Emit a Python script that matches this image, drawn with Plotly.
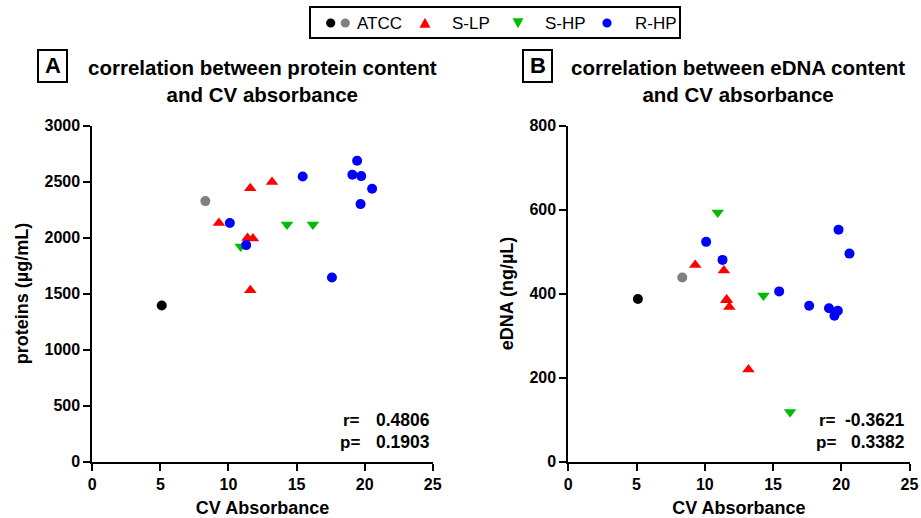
import plotly.graph_objects as go

W, H = 921, 518

# ---------------- data ----------------
# Panel A: CV absorbance vs protein content (µg/mL)
atcc1_cv_a = [5.1]
atcc1_prot = [1393]
atcc2_cv_a = [8.3]
atcc2_prot = [2325]
slp_cv_a = [9.3, 11.4, 11.8, 11.6, 13.2, 11.6]
slp_prot = [2130, 1995, 1990, 2440, 2495, 1530]
shp_cv_a = [14.3, 16.2, 10.9]
shp_prot = [2117, 2117, 1920]
rhp_cv_a = [10.1, 11.3, 15.45, 19.45, 19.1, 19.75, 20.55, 19.7, 17.6]
rhp_prot = [2129, 1932, 2545, 2685, 2560, 2548, 2435, 2298, 1643]

# Panel B: CV absorbance vs eDNA content (ng/µL)
atcc1_cv_b = [5.1]
atcc1_edna = [387]
atcc2_cv_b = [8.35]
atcc2_edna = [438]
slp_cv_b = [9.3, 11.4, 11.6, 11.8, 13.2, 11.6]
slp_edna = [468, 455, 386, 368, 219, 384]
shp_cv_b = [10.95, 14.3, 16.25]
shp_edna = [593, 395, 118]
rhp_cv_b = [10.1, 11.3, 15.45, 17.65, 19.1, 19.75, 19.5, 19.8, 20.6]
rhp_edna = [523, 480, 405, 371, 365, 359, 347, 552, 495]

stats_a = ("0.4806", "0.1903")
stats_b = ("-0.3621", "0.3382")

x_ticks = [0, 5, 10, 15, 20, 25]
ya_ticks = [0, 500, 1000, 1500, 2000, 2500, 3000]
yb_ticks = [0, 200, 400, 600, 800]

groups = ["ATCC", "S-LP", "S-HP", "R-HP"]

# ---------------- style ----------------
FONT = "Liberation Sans, Arial, Helvetica, sans-serif"
BLACK, GRAY, RED, GREEN, BLUE = "#000000", "#808080", "#ff0000", "#00bb00", "#0000ff"


def px(x):
    return x / W


def py(y):
    return 1 - y / H


fig = go.Figure()


def add_panel(xa, ya, sets):
    for xs, ys, color, symbol, name, size in sets:
        fig.add_trace(go.Scatter(
            x=xs, y=ys, mode="markers", name=name, showlegend=False,
            xaxis=xa, yaxis=ya, hoverinfo="skip",
            marker=dict(color=color, symbol=symbol, size=size, line=dict(width=0)),
        ))


add_panel("x", "y", [
    (atcc1_cv_a, atcc1_prot, BLACK, "circle", groups[0], 10),
    (atcc2_cv_a, atcc2_prot, GRAY, "circle", groups[0], 10),
    (slp_cv_a, slp_prot, RED, "triangle-up", groups[1], 11),
    (shp_cv_a, shp_prot, GREEN, "triangle-down", groups[2], 11),
    (rhp_cv_a, rhp_prot, BLUE, "circle", groups[3], 10),
])
add_panel("x2", "y2", [
    (atcc1_cv_b, atcc1_edna, BLACK, "circle", groups[0], 10),
    (atcc2_cv_b, atcc2_edna, GRAY, "circle", groups[0], 10),
    (slp_cv_b, slp_edna, RED, "triangle-up", groups[1], 11),
    (shp_cv_b, shp_edna, GREEN, "triangle-down", groups[2], 11),
    (rhp_cv_b, rhp_edna, BLUE, "circle", groups[3], 10),
])

axis_common = dict(
    showline=True, linecolor="black", linewidth=2,
    ticks="outside", ticklen=7, tickwidth=2, tickcolor="black",
    showgrid=False, zeroline=False, automargin=False,
    tickfont=dict(family=FONT, size=16, color="black", weight="bold"),
)
ydom = [py(461.5), py(125.5)]
title_font = dict(family=FONT, size=18, color="black")

fig.update_layout(
    width=W, height=H, autosize=False,
    margin=dict(l=0, r=0, t=0, b=0),
    paper_bgcolor="white", plot_bgcolor="white",
    showlegend=False,
    xaxis=dict(domain=[px(92.3), px(432.7)], range=[0, 25], tickvals=x_ticks,
               title=dict(text="<b>CV Absorbance</b>", font=title_font, standoff=11),
               anchor="y", **axis_common),
    yaxis=dict(domain=ydom, range=[0, 3000], tickvals=ya_ticks,
               title=dict(text="<b>proteins (µg/mL)</b>", font=title_font, standoff=11),
               anchor="x", **axis_common),
    xaxis2=dict(domain=[px(568.3), px(909.5)], range=[0, 25], tickvals=x_ticks,
                title=dict(text="<b>CV Absorbance</b>", font=title_font, standoff=11),
                anchor="y2", **axis_common),
    yaxis2=dict(domain=ydom, range=[0, 800], tickvals=yb_ticks,
                title=dict(text="<b>eDNA (ng/µL)</b>", font=title_font, standoff=11),
                anchor="x2", **axis_common),
)

ann = []
shapes = []

# panel titles
for cx, txt in [(262.5, "correlation between protein content<br>and CV absorbance"),
                (737.5, "correlation between eDNA content<br>and CV absorbance")]:
    ann.append(dict(x=px(cx), y=py(81), xref="paper", yref="paper", text="<b>" + txt + "</b>",
                    showarrow=False, xanchor="center", yanchor="middle",
                    font=dict(family=FONT, size=20.5, color="black"), align="center"))

# panel letters in boxes
for x0, letter in [(38, "A"), (523, "B")]:
    shapes.append(dict(type="rect", xref="paper", yref="paper",
                       x0=px(x0), x1=px(x0 + 29), y0=py(82), y1=py(50),
                       line=dict(color="black", width=2), fillcolor="white"))
    ann.append(dict(x=px(x0 + 14.5), y=py(66), xref="paper", yref="paper", text="<b>" + letter + "</b>",
                    showarrow=False, xanchor="center", yanchor="middle",
                    font=dict(family=FONT, size=22, color="black")))

# r / p statistics
for (rval, pval), lab_r, val_r in [(stats_a, 362, 432), (stats_b, 838, 907)]:
    for row, (lab, val) in enumerate([("r=", rval), ("p=", pval)]):
        yy = 420 + 22 * row
        ann.append(dict(x=px(lab_r), y=py(yy), xref="paper", yref="paper", text="<b>" + lab + "</b>",
                        showarrow=False, xanchor="right", yanchor="middle",
                        font=dict(family=FONT, size=17, color="black")))
        ann.append(dict(x=px(val_r), y=py(yy), xref="paper", yref="paper", text="<b>" + val + "</b>",
                        showarrow=False, xanchor="right", yanchor="middle",
                        font=dict(family=FONT, size=17.5, color="black")))

# legend box
shapes.append(dict(type="rect", xref="paper", yref="paper",
                   x0=px(310), x1=px(680), y0=py(38), y1=py(7),
                   line=dict(color="black", width=2), fillcolor="white"))
LY = 23


def circ(cx, color, r=4.6):
    shapes.append(dict(type="circle", xref="paper", yref="paper",
                       x0=px(cx - r), x1=px(cx + r), y0=py(LY + r), y1=py(LY - r),
                       line=dict(width=0), fillcolor=color))


def tri(cx, color, up=True, s=5.5):
    if up:
        pts = [(cx - s, LY + s * 0.85), (cx + s, LY + s * 0.85), (cx, LY - s * 0.95)]
    else:
        pts = [(cx - s, LY - s * 0.85), (cx + s, LY - s * 0.85), (cx, LY + s * 0.95)]
    path = "M " + " L ".join(f"{px(a):.5f},{py(b):.5f}" for a, b in pts) + " Z"
    shapes.append(dict(type="path", xref="paper", yref="paper", path=path,
                       line=dict(width=0), fillcolor=color))


circ(330.7, BLACK)
circ(345.3, GRAY)
tri(425, RED, up=True)
tri(518, GREEN, up=False)
circ(607, BLUE)
for x0, name in [(355, groups[0]), (450, groups[1]), (543, groups[2]), (633, groups[3])]:
    ann.append(dict(x=px(x0), y=py(LY), xref="paper", yref="paper", text=name,
                    showarrow=False, xanchor="left", yanchor="middle",
                    font=dict(family=FONT, size=17, color="black")))

fig.update_layout(annotations=ann, shapes=shapes)
fig.write_html("out.html", config={"displayModeBar": False},
               post_script="document.body.style.margin='0';document.body.style.overflow='hidden';")
